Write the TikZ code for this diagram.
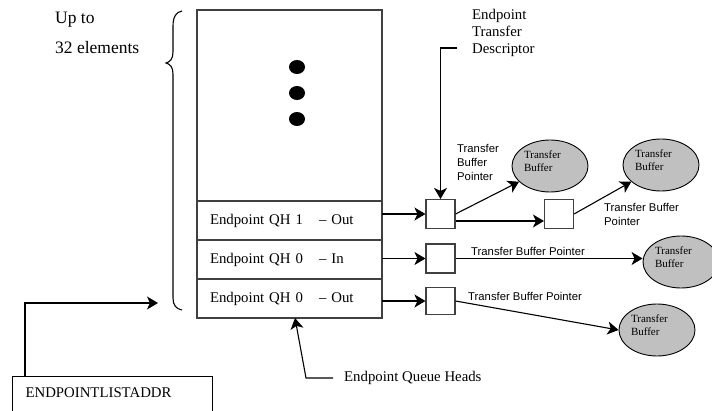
\documentclass[tikz,border=0pt]{standalone}
\usepackage{fontspec}
\setmainfont{Liberation Serif}
\setsansfont{Liberation Sans}
\usetikzlibrary{shapes.geometric, arrows.meta, positioning, calc}
\definecolor{bufgray}{RGB}{192,192,192}
\definecolor{boxline}{RGB}{64,64,64}
\tikzset{
  qhrow/.style={rectangle, draw=boxline, minimum width=185pt, minimum height=39pt,
    text width=159pt, inner xsep=13pt, align=left, outer sep=0pt,
    font=\fontsize{14.8}{17}\selectfont, line width=1.1pt},
  tdbox/.style={rectangle, draw=boxline, minimum width=29pt, minimum height=29pt,
    inner sep=0pt, line width=1.1pt},
  buffer/.style={ellipse, draw=black, fill=bufgray, inner sep=0pt, text width=52pt,
    minimum width=76pt, minimum height=52pt, align=left,
    font=\fontsize{11}{13}\selectfont, line width=0.9pt},
  ptrlabel/.style={font=\sffamily\fontsize{11.3}{14}\selectfont, align=left, inner sep=0pt},
  plainlabel/.style={font=\fontsize{14.8}{17}\selectfont, align=left, inner sep=0pt},
  arrow/.style={-{Stealth[length=11pt, width=13pt, inset=3pt]}, line width=1.1pt},
  line/.style={line width=1.1pt}
}
\newcommand{\buftext}{Transfer\\Buffer\rule[-9pt]{0pt}{9pt}}

\begin{document}
\begin{tikzpicture}[x=1pt, y=-1pt]
  \useasboundingbox (0,0) rectangle (712,411);
  \clip (0,0) rectangle (712,411);

  % Queue head list
  \node[rectangle, draw=boxline, line width=1.1pt, minimum width=185pt, minimum height=308pt,
    anchor=north west, outer sep=0pt] (qhlist) at (197,10) {};
  \node[qhrow, anchor=south west] (qh0out) at (qhlist.south west)
    {\makebox[109pt][l]{Endpoint QH 0}– Out};
  \node[qhrow, above=0pt of qh0out] (qh0in) {\makebox[109pt][l]{Endpoint QH 0}– In};
  \node[qhrow, above=0pt of qh0in] (qh1out) {\makebox[109pt][l]{Endpoint QH 1}– Out};

  % More elements
  \foreach \y in {67,93,119}
    \fill (297,\y) ellipse [x radius=8pt, y radius=7pt];

  % Brace and count
  \draw[line] (182,11) .. controls (176,12) and (173,17) .. (173,26) -- (173,52)
    .. controls (173,59) and (170,62) .. (166,63)
    .. controls (170,64) and (173,67) .. (173,74) -- (173,298)
    .. controls (173,305) and (176,309) .. (182,310);
  \node[font=\fontsize{17.5}{30}\selectfont, align=left, anchor=north west, inner sep=0pt]
    (countlbl) at (55,12) {Up to\\32 elements};

  % List address register
  \node[rectangle, draw=black, line width=1.1pt, anchor=north west, text width=174pt,
    inner xsep=13pt, inner ysep=5pt, align=left,
    font=\fontsize{14.8}{17}\selectfont] (listaddr) at (12,376)
    {\rule[-40pt]{0pt}{56pt}ENDPOINTLISTADDR};
  \coordinate (listin) at (158,303);
  \draw[arrow] ([xshift=13pt]listaddr.north west) |- (listin);

  % Queue heads label
  \node[plainlabel, anchor=west, inner xsep=11pt] (qhlbl) at (333,378) {Endpoint Queue Heads};
  \draw[arrow] (qhlbl.west) -- (306,378) -- ([xshift=5.5pt]qh0out.south);

  % Transfer descriptors
  \node[tdbox] (td1) at (440.5,214) {};
  \node[tdbox] (td2) at (559,214) {};
  \node[tdbox] (td3) at (440.5,258.5) {};
  \node[tdbox, minimum height=27pt] (td4) at (440.5,301) {};

  \draw[arrow] (qh1out.east |- td1) -- (td1.west);
  \draw[arrow] (qh0in.east |- td3) -- (td3.west);
  \draw[arrow] (qh0out.east |- td4) -- (td4.west);

  \node[plainlabel, anchor=west] (tdlbl) at (472,33) {Endpoint\\Transfer\\Descriptor};
  \coordinate (tdtick) at (457,48);
  \draw[arrow] (tdtick) -| (td1.north);

  % Transfer buffers
  \node[buffer] (buf1) at (550,166) {\buftext};
  \node[buffer] (buf2) at (661,165) {\buftext};
  \node[buffer] (buf3) at (681,262) {\buftext};
  \node[buffer] (buf4) at (657,330) {\buftext};

  \draw[arrow] (td1.east) -- (buf1);
  \draw[arrow] ([yshift=-7pt]td1.east) -- ([yshift=-7pt]td2.west);
  \draw[arrow] (td2.east) -- (buf2);
  \draw[arrow] (td3.east) -- (td3.east -| buf3.west);
  \draw[arrow] (td4.east) -- (buf4.west);

  % Pointer labels
  \node[ptrlabel, anchor=north west] (ptr1lbl) at (457,144) {Transfer\\Buffer\\Pointer};
  \node[ptrlabel, anchor=north west] (ptr2lbl) at (604,203) {Transfer Buffer\\Pointer};
  \node[ptrlabel, anchor=west] (ptr3lbl) at (471,251) {Transfer Buffer Pointer};
  \node[ptrlabel, anchor=west] (ptr4lbl) at (468,296) {Transfer Buffer Pointer};
\end{tikzpicture}
\end{document}
